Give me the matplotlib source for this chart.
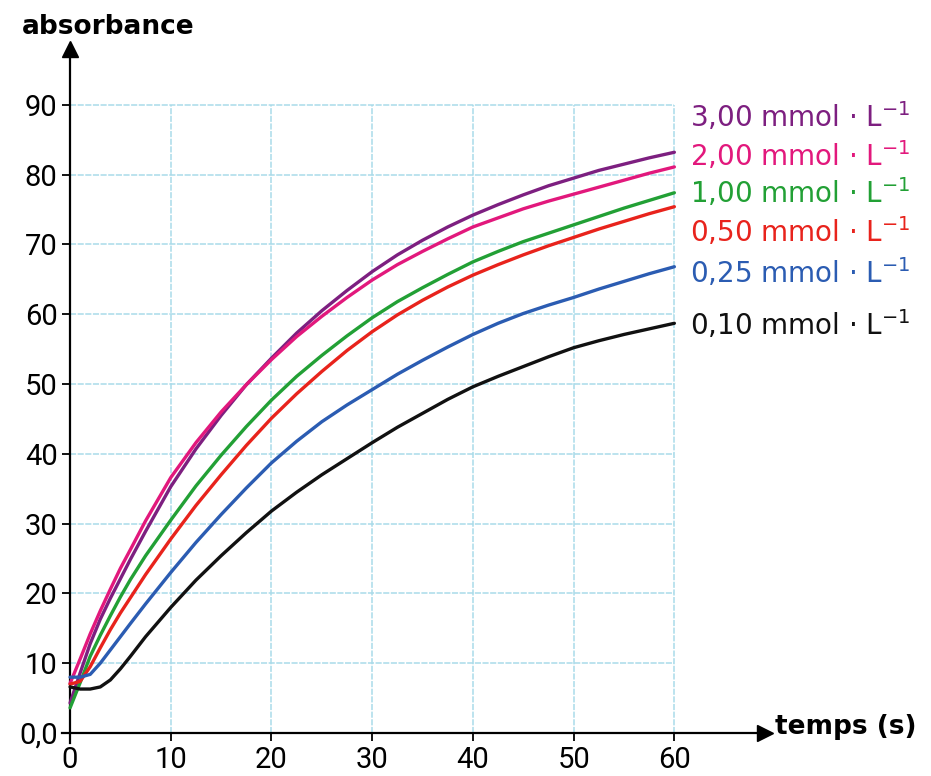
import numpy as np
import matplotlib
matplotlib.use("Agg")
import matplotlib.pyplot as plt

plt.rcParams['font.family'] = ['Roboto', 'DejaVu Sans']

# temps (s)
t = [0, 1, 2, 3, 4, 5, 6, 7.5, 10, 12.5, 15, 17.5, 20, 22.5, 25, 27.5, 30,
     32.5, 35, 37.5, 40, 42.5, 45, 47.5, 50, 52.5, 55, 57.5, 60]

# absorbance, one list per concentration
a_300 = [4.3, 8.6, 12.8, 16.3, 19.3, 22.1, 24.9, 28.9, 35.3, 40.7, 45.5, 49.9, 53.7, 57.3, 60.5,
         63.4, 66.1, 68.5, 70.6, 72.5, 74.2, 75.7, 77.1, 78.4, 79.5, 80.6, 81.5, 82.4, 83.2]
a_200 = [7.1, 10.6, 14.2, 17.5, 20.6, 23.6, 26.3, 30.4, 36.6, 41.6, 46.0, 49.9, 53.5, 56.8, 59.7,
         62.4, 64.9, 67.1, 69.0, 70.8, 72.5, 73.8, 75.1, 76.2, 77.2, 78.2, 79.2, 80.2, 81.1]
a_100 = [3.6, 7.2, 11.0, 14.0, 16.8, 19.5, 22.0, 25.4, 30.5, 35.4, 39.8, 43.9, 47.7, 51.1, 54.1,
         56.9, 59.5, 61.8, 63.8, 65.7, 67.5, 69.0, 70.4, 71.6, 72.8, 74.0, 75.2, 76.3, 77.4]
a_050 = [7.0, 7.4, 9.5, 12.2, 14.8, 17.2, 19.4, 22.7, 27.8, 32.6, 37.0, 41.2, 45.1, 48.6, 51.8,
         54.8, 57.5, 59.9, 62.0, 63.9, 65.6, 67.1, 68.5, 69.8, 71.0, 72.2, 73.3, 74.4, 75.4]
a_025 = [8.0, 8.0, 8.4, 10.0, 11.9, 13.8, 15.7, 18.5, 23.0, 27.3, 31.3, 35.1, 38.7, 41.8, 44.6,
         47.0, 49.2, 51.4, 53.4, 55.3, 57.1, 58.7, 60.1, 61.3, 62.4, 63.6, 64.7, 65.8, 66.8]
a_010 = [6.6, 6.3, 6.3, 6.6, 7.6, 9.2, 11.0, 13.8, 18.0, 21.9, 25.4, 28.7, 31.8, 34.5, 37.0,
         39.3, 41.6, 43.8, 45.8, 47.8, 49.6, 51.1, 52.5, 53.9, 55.2, 56.2, 57.1, 57.9, 58.7]

series = [a_300, a_200, a_100, a_050, a_025, a_010]
labels = ["3,00 mmol · L$^{-1}$", "2,00 mmol · L$^{-1}$", "1,00 mmol · L$^{-1}$",
          "0,50 mmol · L$^{-1}$", "0,25 mmol · L$^{-1}$", "0,10 mmol · L$^{-1}$"]
label_y = [88.3, 82.8, 77.5, 71.9, 66.0, 58.5]
colors = ["#7d1f80", "#e2187c", "#22a035", "#e8231c", "#2b5cb2", "#111111"]

xticks = [0, 10, 20, 30, 40, 50, 60]
yticks = [0, 10, 20, 30, 40, 50, 60, 70, 80, 90]
ytick_labels = ["0,0", "10", "20", "30", "40", "50", "60", "70", "80", "90"]

fig = plt.figure(figsize=(9.31, 7.76), dpi=100)
ax = fig.add_axes([0.0666, 0.0419, 0.7551, 0.895])
ax.set_xlim(-0.8, 69)
ax.set_ylim(-1.5, 98)

# grid only inside 0..60 x 0..90
grid_c = "#a9dbea"
ax.hlines(yticks[1:], 0, 60, colors=grid_c, lw=1.1, linestyles=(0, (4, 1)), zorder=1)
ax.vlines(xticks[1:], 0, 90, colors=grid_c, lw=1.1, linestyles=(0, (4, 1)), zorder=1)

for y, c in zip(series, colors):
    ax.plot(t, y, color=c, lw=2.4, zorder=3, solid_capstyle='round', solid_joinstyle='round')

for lab, ly, c in zip(labels, label_y, colors):
    ax.text(61.6, ly, lab, color=c, fontsize=20, va='center', ha='left',
            family='DejaVu Sans', clip_on=False)

# axes through the origin with arrows
for side in ['top', 'right']:
    ax.spines[side].set_visible(False)
ax.spines['left'].set_position(('data', 0))
ax.spines['bottom'].set_position(('data', 0))
ax.spines['left'].set_linewidth(1.6)
ax.spines['bottom'].set_linewidth(1.6)
ax.plot(69, 0, marker='>', color='black', ms=11, clip_on=False, zorder=5)
ax.plot(0, 98, marker='^', color='black', ms=11, clip_on=False, zorder=5)

ax.set_xticks(xticks)
ax.set_xticklabels([str(v) for v in xticks])
ax.set_yticks(yticks)
ax.set_yticklabels(ytick_labels)
ax.tick_params(direction='out', length=6, width=1.3, labelsize=21, pad=3)

fig.text(22 / 931, 1 - 27 / 776, "absorbance", fontsize=19, fontweight='bold',
         va='center', ha='left', family='DejaVu Sans')
fig.text(775 / 931, 1 - 727 / 776, "temps (s)", fontsize=19, fontweight='bold',
         va='center', ha='left', family='DejaVu Sans')

fig.savefig("out.png", dpi=100, facecolor='white')
